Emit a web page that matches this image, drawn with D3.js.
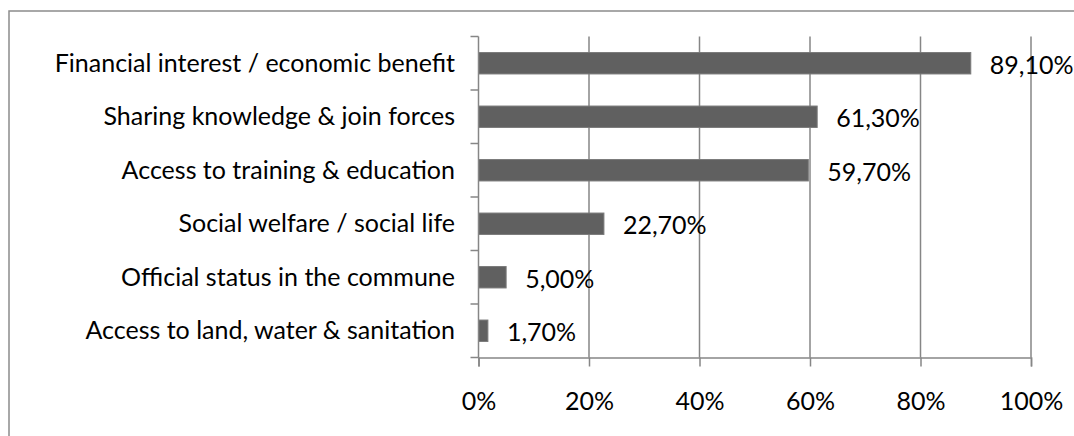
<!DOCTYPE html>
<html>
<head>
<meta charset="utf-8">
<script src="https://cdn.jsdelivr.net/npm/d3@7"></script>
<style>
  body { margin: 0; background: #fff; }
  svg text { font-family: Lato, "Open Sans", sans-serif; fill: #000; }
</style>
</head>
<body>
<svg id="chart" width="1074" height="436"></svg>
<script>
// Data
const categories = [
  "Financial interest / economic benefit",
  "Sharing knowledge & join forces",
  "Access to training & education",
  "Social welfare / social life",
  "Official status in the commune",
  "Access to land, water & sanitation",
];
const values = [89.1, 61.3, 59.7, 22.7, 5.0, 1.7];
const valueLabels = ["89,10%", "61,30%", "59,70%", "22,70%", "5,00%", "1,70%"];
const xTicks = [0, 20, 40, 60, 80, 100];

// Layout
const plot = { left: 478.5, right: 1031, top: 36.5, bottom: 357.5 };
const FONT_SIZE = 25;
const GRID = "#868686";

const svg = d3.select("#chart");

// outer chart frame (runs past the right and bottom edge)
svg.append("rect")
  .attr("x", 9).attr("y", 11)
  .attr("width", 1100).attr("height", 460)
  .attr("fill", "none").attr("stroke", "#8c8c8c").attr("stroke-width", 1.5);

const x = d3.scaleLinear().domain([0, 100]).range([plot.left, plot.right]);
const y = d3.scaleBand().domain(categories).range([plot.top, plot.bottom]).paddingInner(0.6).paddingOuter(0.3);

// vertical gridlines
svg.append("g")
  .selectAll("line")
  .data(xTicks.slice(1))
  .join("line")
  .attr("x1", (d) => x(d)).attr("x2", (d) => x(d))
  .attr("y1", plot.top).attr("y2", plot.bottom)
  .attr("stroke", GRID).attr("stroke-width", 1.5);

// bars
svg.append("g")
  .selectAll("rect")
  .data(values)
  .join("rect")
  .attr("x", x(0))
  .attr("y", (d, i) => y(categories[i]))
  .attr("width", (d) => x(d) - x(0))
  .attr("height", y.bandwidth())
  .attr("fill", "#606060")
  .attr("stroke", "#7a7a7a")
  .attr("stroke-width", 1);

// x axis
const xAxis = svg.append("g")
  .attr("transform", `translate(0,${plot.bottom})`)
  .call(d3.axisBottom(x).tickValues(xTicks).tickFormat((d) => d + "%").tickSize(9).tickPadding(26));
xAxis.select(".domain").attr("stroke", GRID).attr("stroke-width", 1.5);
xAxis.selectAll(".tick line").attr("stroke", GRID).attr("stroke-width", 1.5);
xAxis.selectAll(".tick text").style("font-size", FONT_SIZE + "px").attr("fill", "#000");

// y axis: line and ticks between categories
const boundaries = d3.range(categories.length + 1).map((i) => plot.top + i * (plot.bottom - plot.top) / categories.length);
svg.append("line")
  .attr("x1", x(0)).attr("x2", x(0))
  .attr("y1", plot.top).attr("y2", plot.bottom)
  .attr("stroke", GRID).attr("stroke-width", 1.5);
svg.append("g")
  .selectAll("line")
  .data(boundaries)
  .join("line")
  .attr("x1", x(0) - 8).attr("x2", x(0))
  .attr("y1", (d) => d).attr("y2", (d) => d)
  .attr("stroke", GRID).attr("stroke-width", 1.5);

// category labels
svg.append("g")
  .selectAll("text")
  .data(categories)
  .join("text")
  .attr("x", 455)
  .attr("y", (d) => y(d) + y.bandwidth() / 2)
  .attr("dy", "0.34em")
  .attr("text-anchor", "end")
  .style("font-size", FONT_SIZE + "px")
  .text((d) => d);

// value labels
svg.append("g")
  .selectAll("text")
  .data(values)
  .join("text")
  .attr("x", (d) => x(d) + 19)
  .attr("y", (d, i) => y(categories[i]) + y.bandwidth() / 2 + 2)
  .attr("dy", "0.34em")
  .style("font-size", FONT_SIZE + "px")
  .text((d, i) => valueLabels[i]);
</script>
</body>
</html>
